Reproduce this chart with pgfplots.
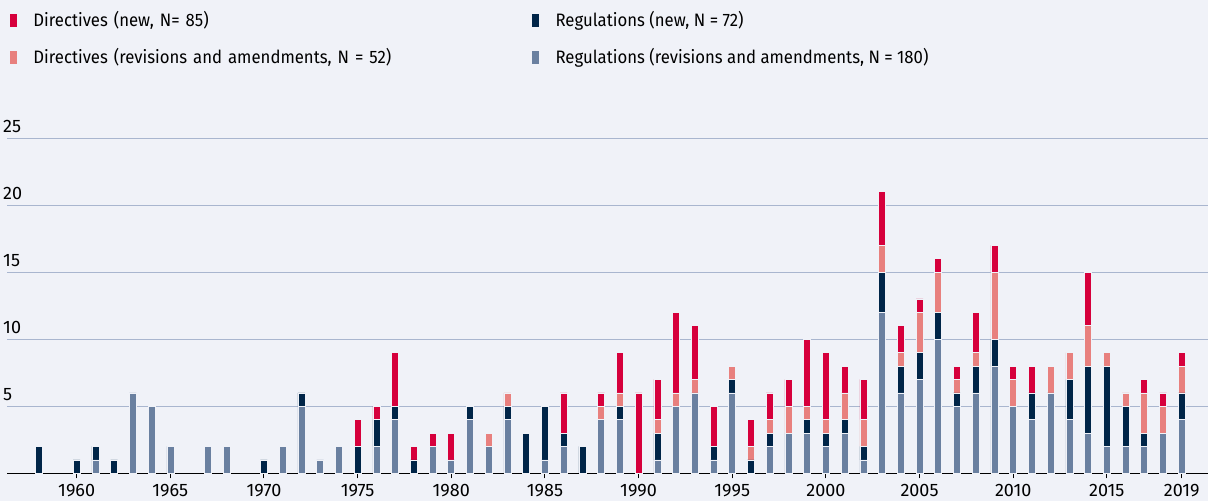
\documentclass[border=0pt]{standalone}
\usepackage{fontspec}
\setmainfont{Fira Sans}
\newfontfamily\legfont{Fira Sans}[FakeStretch=0.93]
\usepackage{pgfplots}
\pgfplotsset{compat=1.18}
\usepackage{pgfplotstable}
\definecolor{bg}{HTML}{F0F2F8}
\definecolor{gridc}{HTML}{A9B6CF}
\definecolor{dnew}{HTML}{D6003C}
\definecolor{drev}{HTML}{E8807E}
\definecolor{rnew}{HTML}{002548}
\definecolor{rrev}{HTML}{6A80A0}

\pgfplotstableread{
year rrev rnew drev dnew
1958 0 2 0 0
1959 0 0 0 0
1960 0 1 0 0
1961 1 1 0 0
1962 0 1 0 0
1963 6 0 0 0
1964 5 0 0 0
1965 2 0 0 0
1966 0 0 0 0
1967 2 0 0 0
1968 2 0 0 0
1969 0 0 0 0
1970 0 1 0 0
1971 2 0 0 0
1972 5 1 0 0
1973 1 0 0 0
1974 2 0 0 0
1975 0 2 0 2
1976 2 2 0 1
1977 4 1 0 4
1978 0 1 0 1
1979 2 0 0 1
1980 1 0 0 2
1981 4 1 0 0
1982 2 0 1 0
1983 4 1 1 0
1984 0 3 0 0
1985 1 4 0 0
1986 2 1 0 3
1987 0 2 0 0
1988 4 0 1 1
1989 4 1 1 3
1990 0 0 0 6
1991 1 2 1 3
1992 5 0 1 6
1993 6 0 1 4
1994 1 1 0 3
1995 6 1 1 0
1996 0 1 1 2
1997 2 1 1 2
1998 3 0 2 2
1999 3 1 1 5
2000 2 1 1 5
2001 3 1 2 2
2002 1 1 2 3
2003 12 3 2 4
2004 6 2 1 2
2005 7 2 3 1
2006 10 2 3 1
2007 5 1 1 1
2008 6 2 1 3
2009 8 2 5 2
2010 5 0 2 1
2011 4 2 0 2
2012 6 0 2 0
2013 4 3 2 0
2014 3 5 3 4
2015 2 6 1 0
2016 2 3 1 0
2017 2 1 3 1
2018 3 0 2 1
2019 4 2 2 1
}\data

\begin{document}
\begin{tikzpicture}
\fill[bg] (-7pt,-27.7pt) rectangle (1201pt,473.3pt);
\useasboundingbox (-7pt,-27.7pt) rectangle (1201pt,473.3pt);
\begin{axis}[
  scale only axis, width=1201pt, height=335.3pt,
  at={(0pt,0pt)}, anchor=south west,
  xmin=1956.28, xmax=2020.40, ymin=0, ymax=25,
  ybar stacked, bar width=7pt,
  axis x line*=bottom, axis y line*=left,
  y axis line style={draw=none},
  x axis line style={-, black, line width=1.3pt},
  ymajorgrids, grid style={gridc, line width=1pt},
  ytick={5,10,15,20,25},
  ytick style={draw=none},
  yticklabel style={anchor=south west, inner sep=0pt, xshift=1pt, yshift=5pt, font=\fontsize{18}{20}\selectfont},
  xtick={1960,1965,...,2015,2019},
  xtick style={black, line width=1pt},
  tick align=outside, major tick length=5pt,
  xticklabel style={font=\fontsize{18}{20}\selectfont, /pgf/number format/1000 sep={}, yshift=-2pt},
  /pgf/number format/assume math mode=true,
  legend columns=2,
  legend cell align=left,
  legend image code/.code={\fill[#1, draw=none] (0pt,-5pt) rectangle (7pt,8pt); \path (23pt,0pt);},
  legend style={at={(0,1)}, anchor=north west, xshift=3pt, yshift=125pt,
    draw=none, fill=none, inner sep=0pt,
    font=\legfont\fontsize{18}{20}\selectfont,
    row sep=20.5pt, column sep=0pt,
    /tikz/column 2/.style={text width=499pt},
    nodes={text height=13pt, text depth=4pt, inner sep=0pt}},
  legend entries={Directives (new{,} N= 85), Regulations (new{,} N = 72), Directives (revisions and amendments{,} N = 52), Regulations (revisions and amendments{,} N = 180)},
]
\addplot[fill=rrev, draw=bg, line width=0.6pt, forget plot] table[x=year, y=rrev] {\data};
\addplot[fill=rnew, draw=bg, line width=0.6pt, forget plot] table[x=year, y=rnew] {\data};
\addplot[fill=drev, draw=bg, line width=0.6pt, forget plot] table[x=year, y=drev] {\data};
\addplot[fill=dnew, draw=bg, line width=0.6pt, forget plot] table[x=year, y=dnew] {\data};
\draw[black, line width=1.3pt] (rel axis cs:0,0) -- (rel axis cs:1,0);
\addlegendimage{fill=dnew}
\addlegendimage{fill=rnew}
\addlegendimage{fill=drev}
\addlegendimage{fill=rrev}
\end{axis}
\end{tikzpicture}
\end{document}
